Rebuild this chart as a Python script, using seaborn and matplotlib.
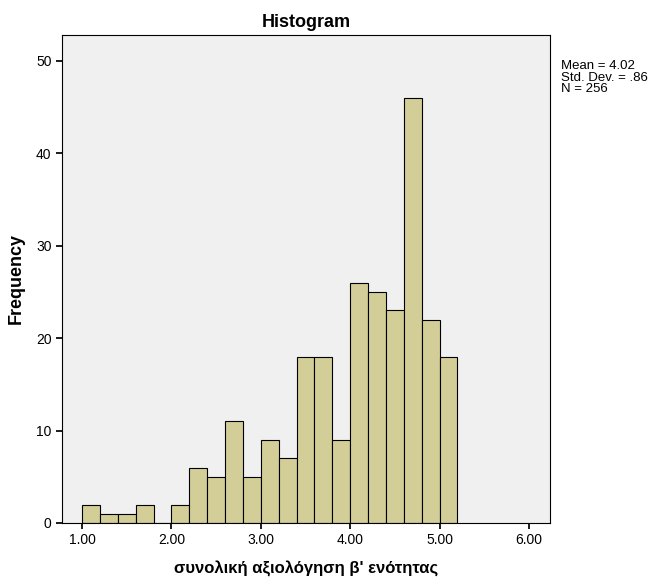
import numpy as np
import pandas as pd
import matplotlib
matplotlib.use("Agg")
import matplotlib.pyplot as plt
import seaborn as sns

# bin edges and counts
bin_edges = [round(1.0 + 0.2 * i, 1) for i in range(22)]
counts = [2, 1, 1, 2, 0, 2, 6, 5, 11, 5, 9, 7, 18, 18, 9, 26, 25, 23, 46, 22, 18]
x_ticks = [1.0, 2.0, 3.0, 4.0, 5.0, 6.0]
x_tick_labels = ["1.00", "2.00", "3.00", "4.00", "5.00", "6.00"]
y_ticks = [0, 10, 20, 30, 40, 50]

sns.set_theme(style="white")
plt.rcParams["font.family"] = ["Liberation Sans", "DejaVu Sans"]
plt.rcParams["text.color"] = "black"
plt.rcParams["axes.labelcolor"] = "black"
plt.rcParams["xtick.color"] = "black"
plt.rcParams["ytick.color"] = "black"

centers = [(bin_edges[i] + bin_edges[i + 1]) / 2 for i in range(len(counts))]
df = pd.DataFrame({"x": centers, "w": counts})

fig = plt.figure(figsize=(6.48, 5.78), dpi=100)
ax = fig.add_axes([62 / 648, 1 - 523 / 578, 488 / 648, 488 / 578])
ax.set_facecolor("#f0f0f0")

sns.histplot(data=df, x="x", weights="w", bins=bin_edges, ax=ax,
             color="#d3ce97", edgecolor="black", linewidth=0.8, alpha=1)

ax.set_xlim(0.776, 6.235)
ax.set_ylim(0, 52.8)
ax.set_xticks(x_ticks)
ax.set_xticklabels(x_tick_labels, fontsize=10)
ax.set_yticks(y_ticks)
ax.tick_params(axis="both", labelsize=10, length=4, color="black", direction="out",
               bottom=True, left=True)
for s in ax.spines.values():
    s.set_color("black")
    s.set_linewidth(0.8)

ax.set_xlabel("συνολική αξιολόγηση β' ενότητας", fontsize=12, fontweight="bold", labelpad=10)
ax.set_ylabel("Frequency", fontsize=13, fontweight="bold", labelpad=8)
ax.set_title("Histogram", fontsize=13, fontweight="bold", pad=6)

fig.text(561 / 648, 1 - 60 / 578, "Mean = 4.02\nStd. Dev. = .86\nN = 256",
         fontsize=9.5, va="top", ha="left", linespacing=0.95)

fig.savefig("out.png", dpi=100)
